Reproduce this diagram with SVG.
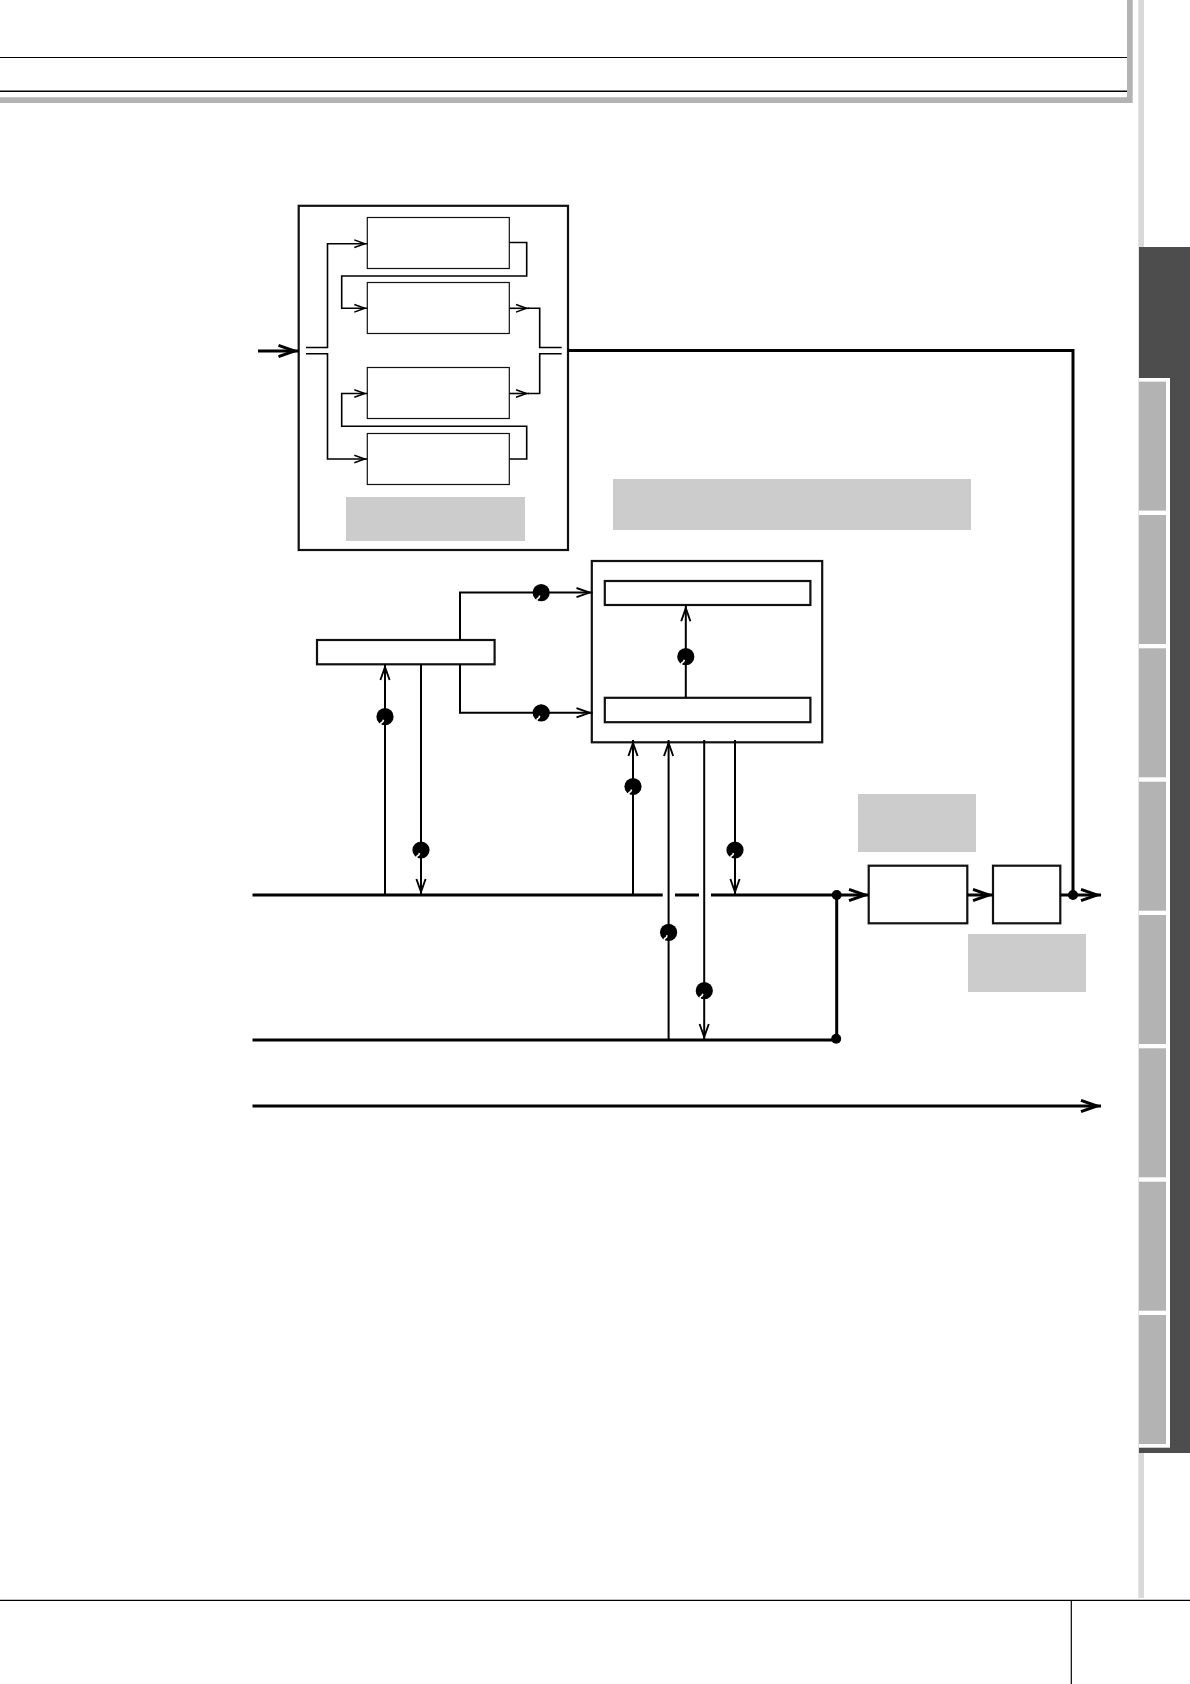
<svg xmlns="http://www.w3.org/2000/svg" width="1190" height="1684" viewBox="0 0 1190 1684">
<defs>
<style>
.box{fill:#fff;stroke:#111}
.b1{stroke-width:1.2}
.b2{stroke-width:2.2}
.gray{fill:#ccc;stroke:none}
.tab{fill:#b3b3b3}
.c{fill:none;stroke:#000}
.s{stroke-width:1.6}
.m{stroke-width:2}
.t{stroke-width:3}
.dot{fill:#000}
.notch{fill:none;stroke:#fff;stroke-width:1.6}
</style>
<marker id="hs" markerUnits="userSpaceOnUse" markerWidth="20" markerHeight="16" viewBox="-16 -8 20 16" refX="0" refY="0" orient="auto"><path d="M-13,-3.8 L-2.5,0 L-13,3.8" fill="none" stroke="#000" stroke-width="1.5"/></marker>
<marker id="hm" markerUnits="userSpaceOnUse" markerWidth="24" markerHeight="18" viewBox="-20 -9 24 18" refX="0" refY="0" orient="auto"><path d="M-16,-4.6 L-3,0 L-16,4.6" fill="none" stroke="#000" stroke-width="1.9"/></marker>
<marker id="hl" markerUnits="userSpaceOnUse" markerWidth="30" markerHeight="20" viewBox="-24 -10 30 20" refX="0" refY="0" orient="auto"><path d="M-20,-5.6 L-4,0 L-20,5.6" fill="none" stroke="#000" stroke-width="3"/></marker>
<g id="knob"><circle r="8.6" class="dot"/><path class="notch" d="M-1.5,3 L-2.2,5 L-4,6.2 L-4.5,8.8"/></g>
</defs>
<rect width="1190" height="1684" fill="#fff"/>

<g id="page-frame">
<path d="M0,57.5H1127" class="c" stroke-width="1.2"/>
<path d="M0,91.3H1127" class="c" stroke-width="1.6"/>
<path d="M0,97.3H1127V0H1132.7V103H0Z" fill="#b3b3b3"/>
<rect x="1138.3" y="0" width="5.7" height="1598" fill="#d9d9d9"/>
<path d="M0,1600.3H1190" class="c" stroke-width="1.2"/>
<path d="M1071.3,1600.3V1684" class="c" stroke-width="1.2"/>
</g>

<g id="sidebar">
<rect x="1139" y="247" width="51" height="1206" fill="#4d4d4d"/>
<rect x="1139" y="378" width="31" height="1069.7" fill="#fff"/>
<rect class="tab" x="1139" y="381.6" width="27" height="129"/>
<rect class="tab" x="1139" y="515" width="27" height="129"/>
<rect class="tab" x="1139" y="648.3" width="27" height="129"/>
<rect class="tab" x="1139" y="781.7" width="27" height="129"/>
<rect class="tab" x="1139" y="915" width="27" height="129"/>
<rect class="tab" x="1139" y="1048.3" width="27" height="129"/>
<rect class="tab" x="1139" y="1181.7" width="27" height="129"/>
<rect class="tab" x="1139" y="1315" width="27" height="129"/>
</g>

<g id="effect-block"><rect class="box b2" x="298.7" y="205.8" width="269.3" height="344.2"/></g>
<g id="effect-1"><rect class="box b1" x="367.3" y="217.5" width="142" height="51"/></g>
<g id="effect-2"><rect class="box b1" x="367.3" y="282.5" width="142" height="51"/></g>
<g id="effect-3"><rect class="box b1" x="367.3" y="367.5" width="142" height="51"/></g>
<g id="effect-4"><rect class="box b1" x="367.3" y="433.5" width="142" height="51"/></g>
<g id="label-effect"><rect class="gray" x="346" y="497" width="179" height="44"/></g>
<g id="label-top"><rect class="gray" x="613" y="479" width="358" height="51"/></g>

<g id="left-block"><rect class="box b2" x="317" y="640" width="177.6" height="24.3"/></g>
<g id="right-block"><rect class="box b2" x="591.8" y="561" width="230.4" height="181.3"/></g>
<g id="inner-top"><rect class="box b2" x="604.8" y="581" width="205.6" height="24"/></g>
<g id="inner-bottom"><rect class="box b2" x="604.8" y="697.8" width="205.6" height="24.4"/></g>

<g id="label-a"><rect class="gray" x="858" y="794" width="118" height="58"/></g>
<g id="label-b"><rect class="gray" x="968" y="934" width="118" height="58"/></g>
<g id="block-a"><rect class="box b2" x="868.7" y="865.7" width="98.6" height="57.6"/></g>
<g id="block-b"><rect class="box b2" x="993" y="865.7" width="67.3" height="57.6"/></g>

<g id="connectors">
<path class="c s" d="M306,347.5H327.5V243.7H367.3" marker-end="url(#hs)"/>
<path class="c s" d="M306,353.7H327.5V459H367.3" marker-end="url(#hs)"/>
<path class="c s" d="M509.3,242.5H526.7V276H341.7V308.3H367.3" marker-end="url(#hs)"/>
<path class="c s" d="M509.3,459H526.7V426.2H341.7V393.5H367.3" marker-end="url(#hs)"/>
<path class="c s" d="M509.3,308.3H529" marker-end="url(#hs)"/>
<path class="c s" d="M509.3,393.5H529" marker-end="url(#hs)"/>
<path class="c s" d="M528,308.3H539.7V347.5H561.7"/>
<path class="c s" d="M528,393.5H539.7V353.7H561.7"/>
<path class="c t" d="M258,351H298.5" marker-end="url(#hl)"/>
<path class="c t" d="M568,350.5H1073V895"/>

<path class="c t" d="M252.5,895H662.7M675,895H699M711,895H869" marker-end="url(#hl)"/>
<path class="c t" d="M252.5,1040H836.7V895"/>
<path class="c t" d="M252.5,1106H1101" marker-end="url(#hl)"/>
<path class="c t" d="M967.3,895H993" marker-end="url(#hl)"/>
<path class="c t" d="M1060.3,895H1101" marker-end="url(#hl)"/>

<path class="c m" d="M385,895V664" marker-end="url(#hm)"/>
<path class="c m" d="M421,664.3V895" marker-end="url(#hm)"/>
<path class="c m" d="M460,640V592.6H592.5" marker-end="url(#hm)"/>
<path class="c m" d="M460,664.3V712.8H592.5" marker-end="url(#hm)"/>
<path class="c m" d="M633,895V740" marker-end="url(#hm)"/>
<path class="c m" d="M668.6,1040V740" marker-end="url(#hm)"/>
<path class="c m" d="M704.2,740V1040" marker-end="url(#hm)"/>
<path class="c m" d="M735,740V895" marker-end="url(#hm)"/>
<path class="c m" d="M685.8,697.8V605.2" marker-end="url(#hm)"/>

<use href="#knob" x="541.2" y="592.6"/>
<use href="#knob" x="541.2" y="712.8"/>
<use href="#knob" x="385" y="716.7"/>
<use href="#knob" x="421" y="850"/>
<use href="#knob" x="633" y="786.5"/>
<use href="#knob" x="685.8" y="656.7"/>
<use href="#knob" x="735" y="850"/>
<use href="#knob" x="668.6" y="932.3"/>
<use href="#knob" x="704.3" y="990.7"/>

<circle class="dot" cx="836.7" cy="895" r="5"/>
<circle class="dot" cx="836.2" cy="1038.8" r="5"/>
<circle class="dot" cx="1073" cy="895" r="5"/>
</g>
</svg>
